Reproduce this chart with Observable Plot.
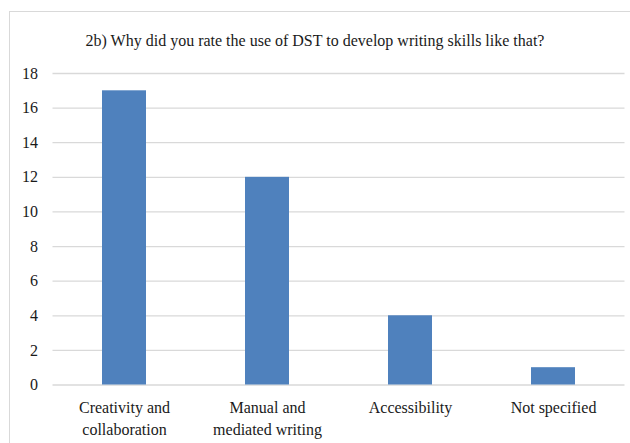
<!DOCTYPE html>
<html>
<head>
<meta charset="utf-8">
<script src="https://cdn.jsdelivr.net/npm/d3@7"></script>
<script src="https://cdn.jsdelivr.net/npm/@observablehq/plot@0.6"></script>
<style>
  html, body { margin: 0; padding: 0; background: #fff; }
  body { width: 630px; height: 443px; position: relative; overflow: hidden; font-family: "Liberation Serif", Tinos, Times, "DejaVu Serif", "Noto Serif", serif; }
  #frame { position: absolute; left: 9px; top: 11px; width: 640px; height: 450px; border-left: 1.5px solid #d9d9d9; border-top: 1.5px solid #d9d9d9; box-sizing: border-box; }
  #title { position: absolute; left: 0; top: 31px; width: 630px; text-align: center; font-size: 16px; color: #1a1a1a; line-height: 20px; }
  #chart { position: absolute; left: 0; top: 55px; }
</style>
</head>
<body>
<div id="frame"></div>
<div id="title">2b) Why did you rate the use of DST to develop writing skills like that?</div>
<div id="chart"></div>
<script>
const categories = ["Creativity and collaboration", "Manual and mediated writing", "Accessibility", "Not specified"];
const counts = [17, 12, 4, 1];
const tickLabels = ["Creativity and\ncollaboration", "Manual and\nmediated writing", "Accessibility", "Not specified"];
const yTicks = [0, 2, 4, 6, 8, 10, 12, 14, 16, 18];

const data = categories.map((c, i) => ({category: c, count: counts[i]}));
const labelOf = new Map(categories.map((c, i) => [c, tickLabels[i]]));

const serif = "'Liberation Serif', Tinos, Times, 'DejaVu Serif', 'Noto Serif', serif";

const chart = Plot.plot({
  width: 630,
  height: 388,
  marginLeft: 52.5,
  marginRight: 5.5,
  marginTop: 18,
  marginBottom: 58.5,
  style: {fontFamily: serif, fontSize: "16px", color: "#1a1a1a", background: "transparent"},
  x: {domain: categories, paddingInner: 0.69, paddingOuter: 0.345, label: null},
  y: {domain: [0, 18], label: null},
  marks: [
    Plot.ruleY(yTicks, {stroke: "#d9d9d9", strokeWidth: 1.3}),
    Plot.barY(data, {x: "category", y: "count", fill: "#4f81bd"}),
    Plot.axisY({ticks: yTicks, tickSize: 0, tickPadding: 15, label: null, fontSize: 16, fontFamily: serif}),
    Plot.axisX({tickSize: 0, tickPadding: 13, label: null, tickFormat: d => labelOf.get(d), lineHeight: 1.35, fontSize: 16, fontFamily: serif})
  ]
});
document.getElementById("chart").appendChild(chart);
</script>
</body>
</html>
